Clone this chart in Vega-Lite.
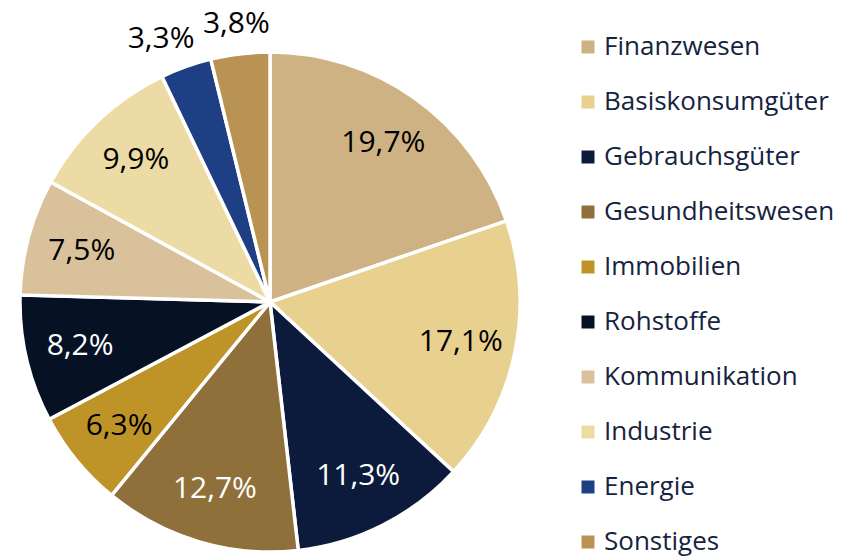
{
  "$schema": "https://vega.github.io/schema/vega-lite/v6.json",
  "autosize": "none",
  "width": 540,
  "height": 604,
  "padding": {"left": 0, "top": 0, "right": 316, "bottom": 0},
  "background": "white",
  "config": {"view": {"stroke": null}, "font": "Open Sans"},
  "data": {
    "values": [
      {"sector": "Finanzwesen", "value": 19.7, "order": 1, "label": "19,7%"},
      {"sector": "Basiskonsumgüter", "value": 17.1, "order": 2, "label": "17,1%"},
      {"sector": "Gebrauchsgüter", "value": 11.3, "order": 3, "label": "11,3%"},
      {"sector": "Gesundheitswesen", "value": 12.7, "order": 4, "label": "12,7%"},
      {"sector": "Immobilien", "value": 6.3, "order": 5, "label": "6,3%"},
      {"sector": "Rohstoffe", "value": 8.2, "order": 6, "label": "8,2%"},
      {"sector": "Kommunikation", "value": 7.5, "order": 7, "label": "7,5%"},
      {"sector": "Industrie", "value": 9.9, "order": 8, "label": "9,9%"},
      {"sector": "Energie", "value": 3.3, "order": 9, "label": "3,3%"},
      {"sector": "Sonstiges", "value": 3.8, "order": 10, "label": "3,8%"}
    ]
  },
  "encoding": {
    "theta": {"field": "value", "type": "quantitative", "stack": true},
    "order": {"field": "order", "type": "quantitative"}
  },
  "layer": [
    {
      "mark": {"type": "arc", "outerRadius": 250, "stroke": "white", "strokeWidth": 3.5},
      "encoding": {
        "color": {
          "field": "sector",
          "type": "nominal",
          "sort": ["Finanzwesen", "Basiskonsumgüter", "Gebrauchsgüter", "Gesundheitswesen", "Immobilien", "Rohstoffe", "Kommunikation", "Industrie", "Energie", "Sonstiges"],
          "scale": {
            "domain": ["Finanzwesen", "Basiskonsumgüter", "Gebrauchsgüter", "Gesundheitswesen", "Immobilien", "Rohstoffe", "Kommunikation", "Industrie", "Energie", "Sonstiges"],
            "range": ["#CFB283", "#E8D08F", "#0C1B3C", "#8F703A", "#BE9428", "#061224", "#D9C19C", "#EDDBA6", "#1E3F84", "#B99353"]
          },
          "legend": {
            "title": null,
            "orient": "none",
            "legendX": 575,
            "legendY": 34,
            "padding": 0,
            "symbolType": "square",
            "symbolSize": 169,
            "symbolStrokeWidth": 0,
            "labelFont": "Open Sans",
            "labelFontSize": 26,
            "labelColor": "#16233F",
            "labelOffset": 3,
            "rowPadding": 29,
            "labelLimit": 300
          }
        }
      }
    },
    {
      "mark": {"type": "text", "radius": 195, "fontSize": 30, "font": "Open Sans", "baseline": "middle", "align": "center"},
      "encoding": {
        "text": {"condition": {"test": "datum.value >= 5", "field": "label"}, "value": ""},
        "color": {
          "condition": {"test": "indexof(['Gebrauchsgüter','Gesundheitswesen','Rohstoffe'], datum.sector) >= 0", "value": "white"},
          "value": "black"
        }
      }
    },
    {
      "mark": {"type": "text", "radius": 282, "fontSize": 30, "font": "Open Sans", "baseline": "middle", "align": "center", "color": "black", "dx": -14, "dy": 3},
      "encoding": {
        "text": {"condition": {"test": "datum.sector == 'Energie'", "field": "label"}, "value": ""}
      }
    },
    {
      "mark": {"type": "text", "radius": 282, "fontSize": 30, "font": "Open Sans", "baseline": "middle", "align": "center", "color": "black", "dy": 2},
      "encoding": {
        "text": {"condition": {"test": "datum.sector == 'Sonstiges'", "field": "label"}, "value": ""}
      }
    }
  ]
}
